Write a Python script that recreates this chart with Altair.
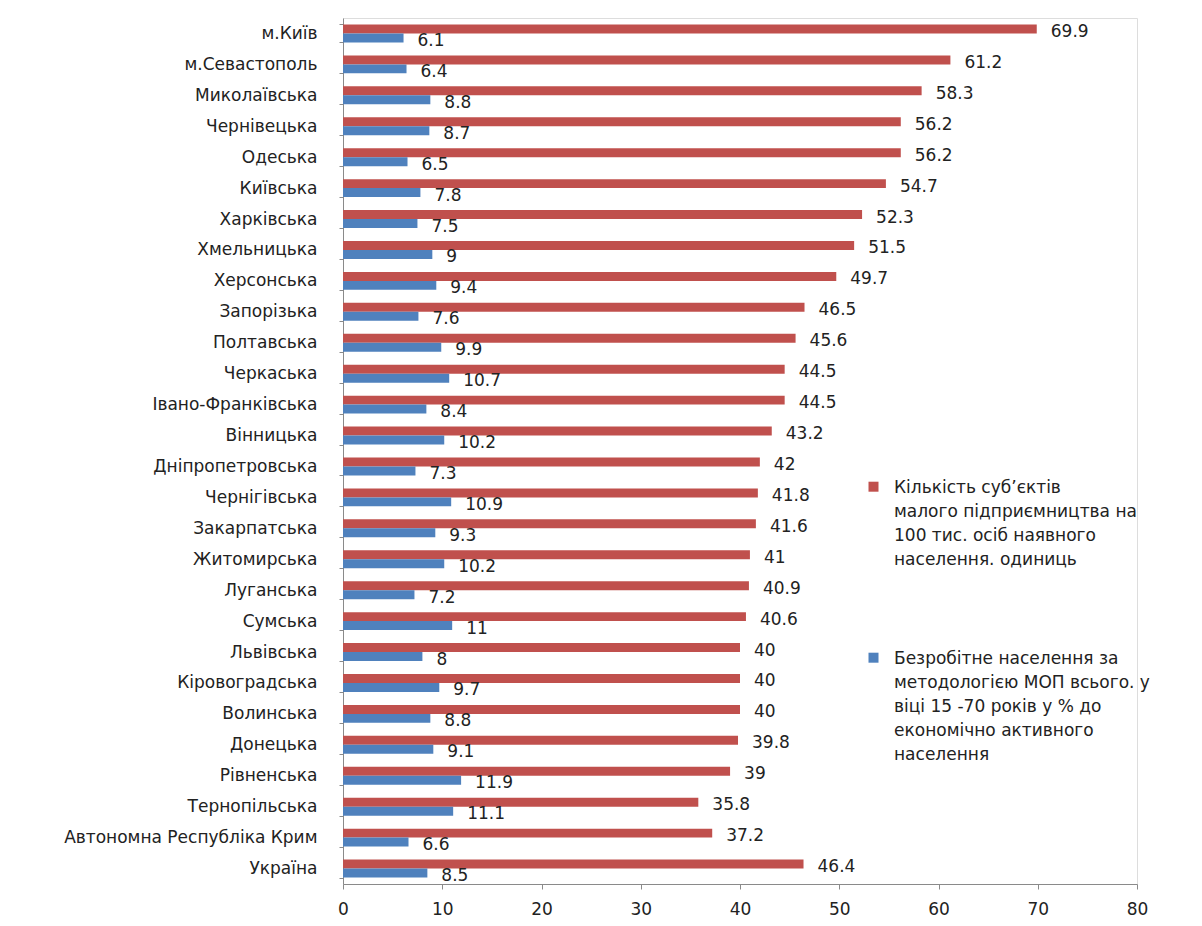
import altair as alt
import pandas as pd

regions = [
    "м.Київ", "м.Севастополь", "Миколаївська", "Чернівецька", "Одеська",
    "Київська", "Харківська", "Хмельницька", "Херсонська", "Запорізька",
    "Полтавська", "Черкаська", "Івано-Франківська", "Вінницька",
    "Дніпропетровська", "Чернігівська", "Закарпатська", "Житомирська",
    "Луганська", "Сумська", "Львівська", "Кіровоградська", "Волинська",
    "Донецька", "Рівненська", "Тернопільська", "Автономна Республіка Крим",
    "Україна",
]
small_business = [
    69.9, 61.2, 58.3, 56.2, 56.2, 54.7, 52.3, 51.5, 49.7, 46.5, 45.6, 44.5,
    44.5, 43.2, 42, 41.8, 41.6, 41, 40.9, 40.6, 40, 40, 40, 39.8, 39, 35.8,
    37.2, 46.4,
]
unemployment = [
    6.1, 6.4, 8.8, 8.7, 6.5, 7.8, 7.5, 9, 9.4, 7.6, 9.9, 10.7, 8.4, 10.2,
    7.3, 10.9, 9.3, 10.2, 7.2, 11, 8, 9.7, 8.8, 9.1, 11.9, 11.1, 6.6, 8.5,
]

series_red = "Кількість суб’єктів|малого підприємництва  на|100 тис. осіб наявного|населення. одиниць"
series_blue = "Безробітне населення за|методологією МОП всього. у|віці 15 -70 років у % до|економічно активного|населення"
series_names = [series_red, series_blue]
series_colors = ["#C0504D", "#4F81BD"]

rows = []
for r, a, b in zip(regions, small_business, unemployment):
    rows.append({"region": r, "series": series_red, "value": a})
    rows.append({"region": r, "series": series_blue, "value": b})
df = pd.DataFrame(rows)

FONT = "DejaVu Sans"
FS = 17
TXT = "#222222"
AXC = "#8a8a8a"

y_enc = alt.Y(
    "region:N",
    sort=regions,
    scale=alt.Scale(paddingInner=0.42, paddingOuter=0.21),
    axis=alt.Axis(
        title=None,
        tickBand="extent",
        tickSize=4,
        labelPadding=22,
        labelFont=FONT,
        labelFontSize=FS,
        labelColor=TXT,
        labelLimit=400,
        domainColor=AXC,
        tickColor=AXC,
        minExtent=335,
        maxExtent=335,
    ),
)
yoff = alt.YOffset("series:N", sort=series_names)
x_enc = alt.X(
    "value:Q",
    scale=alt.Scale(domain=[0, 80], nice=False),
    axis=alt.Axis(
        title=None,
        values=list(range(0, 81, 10)),
        grid=False,
        tickSize=5,
        labelPadding=12,
        labelFlush=False,
        labelFont=FONT,
        labelFontSize=FS,
        labelColor=TXT,
        domainColor=AXC,
        tickColor=AXC,
    ),
)

bars = alt.Chart(df).mark_bar().encode(
    x=x_enc,
    y=y_enc,
    yOffset=yoff,
    color=alt.Color(
        "series:N",
        scale=alt.Scale(domain=series_names, range=series_colors),
        legend=alt.Legend(
            title=None,
            orient="none",
            legendX=522,
            legendY=453,
            direction="vertical",
            labelExpr="split(datum.label, '|')",
            labelBaseline="top",
            labelFont=FONT,
            labelFontSize=FS,
            labelColor=TXT,
            labelLimit=500,
            labelOffset=12,
            rowPadding=74,
            symbolType="M-1,0.44L1,0.44L1,2.44L-1,2.44Z",
            symbolSize=100,
            symbolStrokeWidth=0,
        ),
    ),
)

labels = alt.Chart(df).mark_text(
    align="left", baseline="middle", dx=14, dy=3, font=FONT, fontSize=FS, color=TXT
).encode(
    x="value:Q",
    y=alt.Y("region:N", sort=regions),
    yOffset=yoff,
    text=alt.Text("value:Q", format=".3~g"),
)

chart = (
    alt.layer(bars, labels)
    .properties(
        width=794,
        height=866,
        padding={"left": 0, "top": 1, "right": 5, "bottom": 0},
        background="white",
    )
    .configure_view(stroke=None)
    .configure(style={"guide-label": {"lineHeight": 24}})
)

chart.save("out.html", embed_options={"renderer": "svg", "actions": False})
